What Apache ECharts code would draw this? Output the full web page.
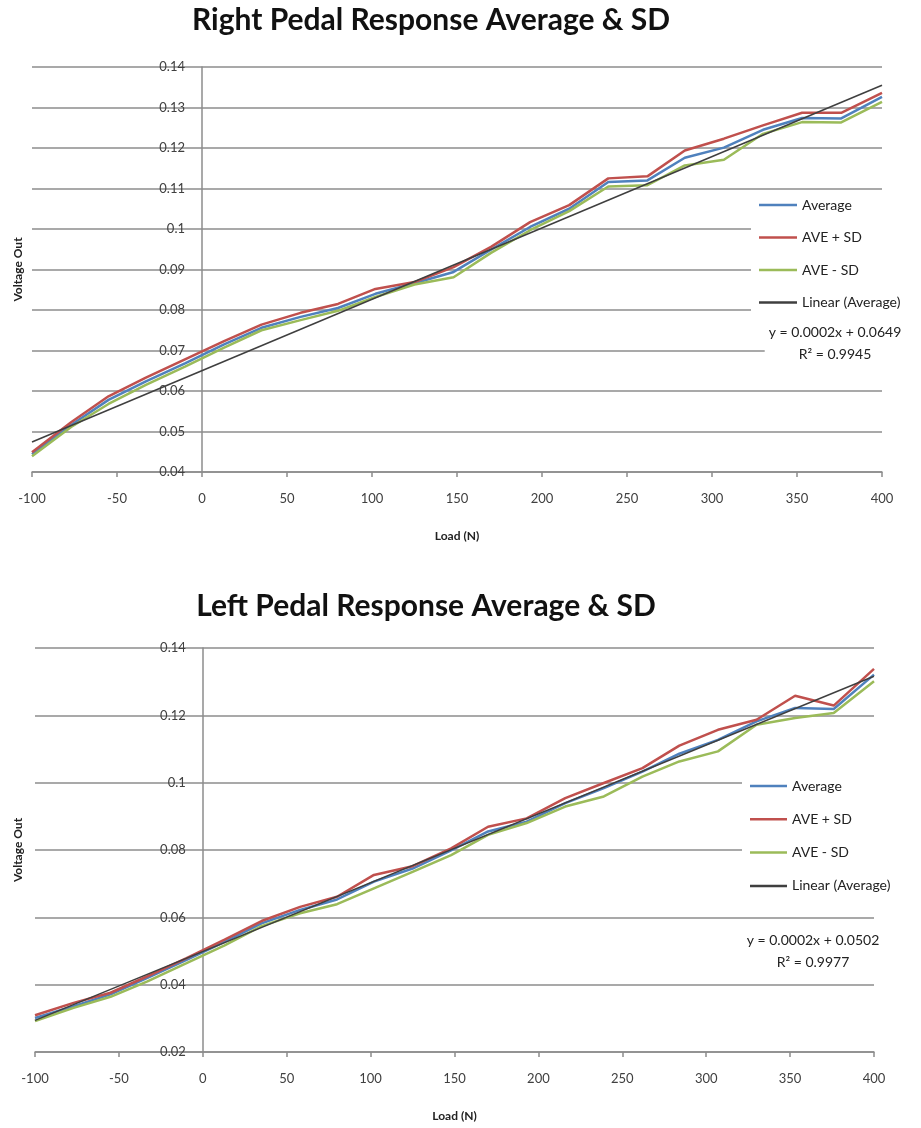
<!DOCTYPE html>
<html>
<head>
<meta charset="utf-8">
<title>Pedal Response Average & SD</title>
<script src="https://cdn.jsdelivr.net/npm/echarts@6/dist/echarts.min.js"></script>
<style>
  html, body { margin: 0; padding: 0; background: #fff; }
  #chart { width: 921px; height: 1128px; }
</style>
</head>
<body>
<div id="chart"></div>
<script>
// load steps (N), shared by both pedals
const loads = [-100, -77, -55, -33, -10, 13, 35, 58, 80, 102, 125, 148,
  170, 193, 216, 239, 262, 284, 307, 330, 353, 376, 400];

// right pedal (volts)
const rightAverage = [0.0444, 0.0516, 0.0578, 0.0624, 0.0668, 0.0715, 0.0756, 0.0783,
  0.0805, 0.0840, 0.0866, 0.0894, 0.0949, 0.1005, 0.1050, 0.1116, 0.1120, 0.1176,
  0.1201, 0.1245, 0.1274, 0.1273, 0.1326];
const rightPlusSD = [0.0449, 0.0523, 0.0587, 0.0633, 0.0678, 0.0723, 0.0764, 0.0793,
  0.0815, 0.0852, 0.0869, 0.0906, 0.0956, 0.1017, 0.1059, 0.1125, 0.1130, 0.1194,
  0.1223, 0.1256, 0.1287, 0.1287, 0.1336];
const rightMinusSD = [0.0439, 0.0511, 0.0568, 0.0615, 0.0660, 0.0707, 0.0750, 0.0775,
  0.0798, 0.0832, 0.0863, 0.0881, 0.0941, 0.0997, 0.1044, 0.1105, 0.1108, 0.1157,
  0.1171, 0.1235, 0.1264, 0.1263, 0.1314];

// left pedal (volts)
const leftAverage = [0.0301, 0.0336, 0.0371, 0.0420, 0.0473, 0.0527, 0.0582, 0.0622,
  0.0653, 0.0706, 0.0745, 0.0799, 0.0855, 0.0884, 0.0939, 0.0984, 0.1033, 0.1086,
  0.1127, 0.1182, 0.1222, 0.1219, 0.1321];
const leftPlusSD = [0.0309, 0.0346, 0.0376, 0.0425, 0.0478, 0.0534, 0.0589, 0.0631,
  0.0661, 0.0726, 0.0752, 0.0805, 0.0869, 0.0894, 0.0954, 0.0999, 0.1043, 0.1110,
  0.1157, 0.1187, 0.1258, 0.1229, 0.1338];
const leftMinusSD = [0.0292, 0.0331, 0.0364, 0.0410, 0.0463, 0.0517, 0.0574, 0.0612,
  0.0639, 0.0686, 0.0735, 0.0785, 0.0845, 0.0880, 0.0929, 0.0959, 0.1018, 0.1063,
  0.1093, 0.1172, 0.1192, 0.1207, 0.1301];

// linear trend end points
const trendLoads = [-100, 400];
const rightTrend = [0.0474, 0.1355];
const leftTrend = [0.0294, 0.1316];

const seriesNames = ["Average", "AVE + SD", "AVE - SD", "Linear (Average)"];
const colors = ["#4f81bd", "#c0504d", "#9bbb59", "#3f3f3f"];
const titles = ["Right Pedal Response Average & SD", "Left Pedal Response Average & SD"];
const equations = [
  "y = 0.0002x + 0.0649\nR² = 0.9945",
  "y = 0.0002x + 0.0502\nR² = 0.9977"
];

const font = "Lato";
const gridGray = "#8c8c8c";
const xMin = -100;
const xMax = 400;

// grid boxes in px
const grids = [
  { left: 32, top: 67, width: 850, height: 405 },
  { left: 35, top: 648, width: 839, height: 404 }
];

function pairs(xs, ys) {
  return xs.map((x, i) => [x, ys[i]]);
}

function xAxisFor(idx) {
  return {
    type: "value",
    gridIndex: idx,
    min: xMin,
    max: xMax,
    interval: 50,
    name: "Load (N)",
    nameLocation: "middle",
    nameGap: 58,
    nameTextStyle: { fontFamily: font, fontWeight: "bold", fontSize: 12, color: "#222" },
    axisLine: { lineStyle: { color: gridGray, width: 1.5 } },
    axisTick: { show: true, length: 5, lineStyle: { color: gridGray, width: 1.5 } },
    axisLabel: { margin: 20, fontFamily: font, fontSize: 13, color: "#404040" },
    splitLine: { show: false }
  };
}

// the value axis crosses the load axis at 0, as in the Excel chart
function yAxisFor(idx, min, interval) {
  const g = grids[idx];
  const zeroShift = g.width * (0 - xMin) / (xMax - xMin);
  return {
    type: "value",
    gridIndex: idx,
    min: min,
    max: 0.14,
    interval: interval,
    offset: -zeroShift,
    name: "Voltage Out",
    nameLocation: "middle",
    nameGap: g.left + zeroShift - 24,
    nameTextStyle: { fontFamily: font, fontWeight: "bold", fontSize: 12, color: "#222" },
    axisLine: { onZero: false, lineStyle: { color: gridGray, width: 1.5 } },
    axisTick: { show: false },
    axisLabel: { margin: 17, fontFamily: font, fontSize: 13, color: "#404040" },
    splitLine: { show: true, lineStyle: { color: gridGray, width: 1.5 } }
  };
}

function lineSeries(idx, name, data, color, width) {
  return {
    name: name,
    type: "line",
    xAxisIndex: idx,
    yAxisIndex: idx,
    data: data,
    symbol: "none",
    lineStyle: { color: color, width: width },
    itemStyle: { color: color },
    emphasis: { disabled: true },
    animation: false
  };
}

function seriesFor(idx, avg, plus, minus, trend) {
  return [
    lineSeries(idx, seriesNames[0], pairs(loads, avg), colors[0], 2.5),
    lineSeries(idx, seriesNames[1], pairs(loads, plus), colors[1], 2.5),
    lineSeries(idx, seriesNames[2], pairs(loads, minus), colors[2], 2.5),
    lineSeries(idx, seriesNames[3], pairs(trendLoads, trend), colors[3], 1.5)
  ];
}

function legendFor(left, top, gap, width) {
  return {
    data: seriesNames,
    orient: "vertical",
    left: left,
    top: top,
    icon: "rect",
    itemWidth: width,
    itemHeight: 2.5,
    itemGap: gap,
    padding: [6, 6, 6, 8],
    backgroundColor: "#fff",
    selectedMode: false,
    textStyle: { fontFamily: font, fontSize: 14, color: "#222", lineHeight: 16 }
  };
}

function equationText(x, y, text) {
  return {
    type: "text",
    x: x,
    y: y,
    z: 10,
    style: {
      text: text,
      align: "center",
      fontFamily: font,
      fontSize: 14,
      lineHeight: 22,
      fill: "#222",
      backgroundColor: "#fff",
      padding: [2, 4]
    }
  };
}

const chart = echarts.init(document.getElementById("chart"));

const titleStyle = { fontFamily: font, fontWeight: "bold", fontSize: 30, color: "#111" };

const option = {
  backgroundColor: "#fff",
  animation: false,
  title: [
    { text: titles[0], left: 431, textAlign: "center", top: 5, padding: 0, textStyle: titleStyle },
    { text: titles[1], left: 426, textAlign: "center", top: 591, padding: 0, textStyle: titleStyle }
  ],
  grid: grids.map(g => Object.assign({ outerBoundsMode: "none" }, g)),
  xAxis: [xAxisFor(0), xAxisFor(1)],
  yAxis: [yAxisFor(0, 0.04, 0.01), yAxisFor(1, 0.02, 0.02)],
  legend: [
    legendFor(751, 191, 16.5, 38),
    legendFor(742, 772, 17.3, 37)
  ],
  graphic: [
    equationText(835, 319, equations[0]),
    equationText(813, 927, equations[1])
  ],
  series: [].concat(
    seriesFor(0, rightAverage, rightPlusSD, rightMinusSD, rightTrend),
    seriesFor(1, leftAverage, leftPlusSD, leftMinusSD, leftTrend)
  )
};

chart.setOption(option);
</script>
</body>
</html>
